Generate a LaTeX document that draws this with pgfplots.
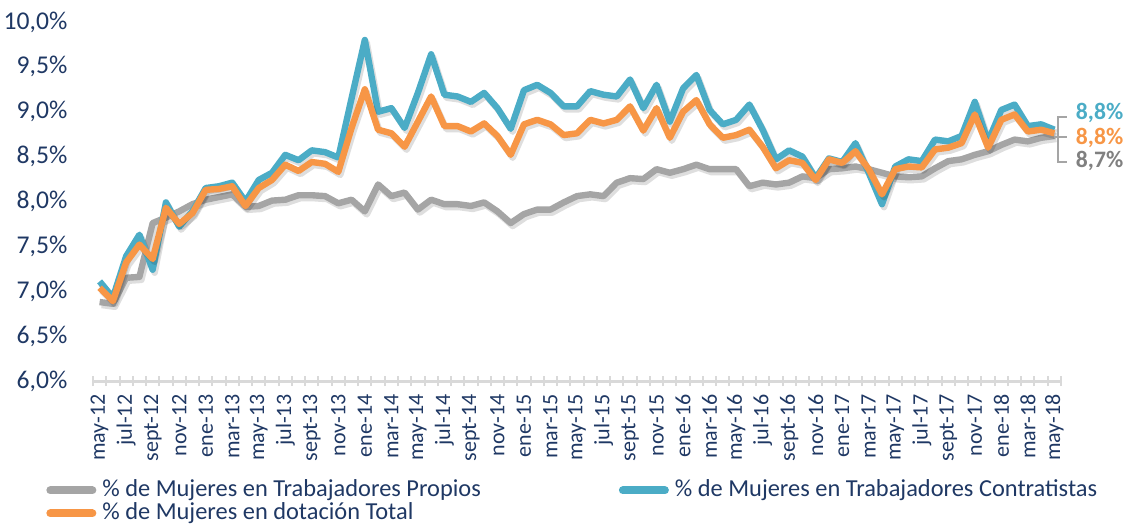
\documentclass[border=0pt]{standalone}
\usepackage{pgfplots}
\pgfplotsset{compat=1.18}
\usepackage{pgfplotstable}
\usepackage{fontspec}
\setmainfont{Carlito}
\definecolor{cblue}{HTML}{4BACC6}
\definecolor{corange}{HTML}{F79646}
\definecolor{cgrey}{HTML}{A5A5A5}
\definecolor{cgreyd}{HTML}{808080}
\definecolor{navy}{HTML}{1F3864}
\definecolor{axgrey}{HTML}{D9D9D9}

\pgfplotstableread{
i grey blue orange
0 6.88 7.11 7.04
1 6.86 6.93 6.89
2 7.15 7.39 7.32
3 7.16 7.63 7.52
4 7.76 7.24 7.36
5 7.82 7.99 7.93
6 7.89 7.72 7.75
7 7.97 7.89 7.87
8 8.02 8.15 8.13
9 8.05 8.17 8.14
10 8.08 8.21 8.17
11 7.94 8.00 7.95
12 7.95 8.24 8.15
13 8.01 8.32 8.24
14 8.02 8.52 8.41
15 8.07 8.46 8.34
16 8.07 8.57 8.44
17 8.06 8.55 8.42
18 7.98 8.49 8.33
19 8.02 9.15 8.82
20 7.89 9.80 9.25
21 8.19 9.00 8.80
22 8.06 9.04 8.76
23 8.10 8.82 8.61
24 7.91 9.21 8.89
25 8.02 9.64 9.17
26 7.97 9.19 8.84
27 7.97 9.17 8.84
28 7.95 9.11 8.78
29 7.99 9.21 8.87
30 7.89 9.04 8.73
31 7.76 8.81 8.52
32 7.86 9.24 8.86
33 7.91 9.30 8.91
34 7.91 9.21 8.86
35 7.99 9.06 8.74
36 8.06 9.06 8.76
37 8.08 9.23 8.91
38 8.06 9.19 8.87
39 8.21 9.17 8.91
40 8.26 9.36 9.06
41 8.25 9.04 8.79
42 8.36 9.30 9.04
43 8.32 8.89 8.71
44 8.36 9.26 9.00
45 8.41 9.41 9.13
46 8.36 9.02 8.86
47 8.36 8.86 8.71
48 8.36 8.91 8.74
49 8.17 9.08 8.80
50 8.21 8.80 8.61
51 8.19 8.47 8.37
52 8.21 8.57 8.46
53 8.28 8.50 8.43
54 8.26 8.26 8.24
55 8.36 8.48 8.47
56 8.37 8.44 8.43
57 8.39 8.65 8.56
58 8.36 8.32 8.36
59 8.32 7.97 8.08
60 8.28 8.39 8.36
61 8.27 8.47 8.39
62 8.28 8.45 8.38
63 8.37 8.69 8.58
64 8.45 8.67 8.60
65 8.47 8.73 8.65
66 8.52 9.11 8.97
67 8.56 8.67 8.60
68 8.63 9.02 8.91
69 8.69 9.08 8.97
70 8.67 8.84 8.78
71 8.71 8.86 8.80
72 8.73 8.80 8.76
}\data

\begin{document}
\begin{tikzpicture}
\useasboundingbox (-46.5pt,-72.5pt) rectangle (518pt,190.5pt);
\begin{axis}[
  at={(0,0)}, anchor=south west,
  width=484pt, height=179.5pt, scale only axis,
  xmin=-0.5, xmax=72.5, ymin=6, ymax=10,
  clip=false,
  axis x line*=bottom, axis y line*=left,
  y axis line style={draw=none},
  x axis line style={draw=axgrey, line width=1.5pt, -},
  xtick={0,2,...,72},
  xticklabels={may-12,jul-12,sept-12,nov-12,ene-13,mar-13,may-13,jul-13,sept-13,nov-13,ene-14,mar-14,may-14,jul-14,sept-14,nov-14,ene-15,mar-15,may-15,jul-15,sept-15,nov-15,ene-16,mar-16,may-16,jul-16,sept-16,nov-16,ene-17,mar-17,may-17,jul-17,sept-17,nov-17,ene-18,mar-18,may-18},
  minor xtick={-0.5,0.5,...,72.5},
  major x tick style={draw=none},
  minor x tick style={draw=axgrey, line width=1pt},
  minor tick length=5pt,
  tick align=center,
  ytick={6,6.5,...,10},
  yticklabels={{6,0\%},{6,5\%},{7,0\%},{7,5\%},{8,0\%},{8,5\%},{9,0\%},{9,5\%},{10,0\%}},
  ytick style={draw=none},
  xticklabel style={rotate=90, anchor=east, font=\fontsize{11}{12}\selectfont, text=navy, inner sep=0pt},
  xticklabel shift=4.5pt,
  yticklabel style={font=\fontsize{12.8}{14}\selectfont, text=navy, anchor=east, inner sep=0pt},
  yticklabel shift=10.5pt,
  legend columns=2,
  legend cell align=left,
  legend style={at={(-0.0486,-0.273)}, anchor=north west, draw=none, fill=none, inner sep=0pt,
    font=\fontsize{12.2}{14}\selectfont, text=navy,
    nodes={inner sep=0pt, text height=8.5pt, text depth=2.5pt},
    row sep=0.5pt,
    /tikz/every odd column/.append style={column sep=3pt},
    /tikz/every even column/.append style={column sep=69pt}},
  legend image code/.code={\draw[#1, line width=4pt, line cap=round] (2pt,0pt) -- (23pt,0pt);},
]
\addplot[forget plot, black, opacity=0.13, line width=3.2pt, line join=round, xshift=1pt, yshift=-1.5pt] table[x=i,y=grey]{\data};
\addplot[cgrey, line width=3.2pt, line join=round] table[x=i,y=grey]{\data};
\addlegendentry{\% de Mujeres en Trabajadores Propios}
\addplot[forget plot, black, opacity=0.13, line width=3.2pt, line join=round, xshift=1pt, yshift=-1.5pt] table[x=i,y=blue]{\data};
\addplot[cblue, line width=3.2pt, line join=round] table[x=i,y=blue]{\data};
\addlegendentry{\% de Mujeres en Trabajadores Contratistas}
\addplot[forget plot, black, opacity=0.13, line width=3.2pt, line join=round, xshift=1pt, yshift=-1.5pt] table[x=i,y=orange]{\data};
\addplot[corange, line width=3.2pt, line join=round] table[x=i,y=orange]{\data};
\addlegendentry{\% de Mujeres en dotación Total}

\draw[cgrey, line width=0.9pt] (axis cs:72.95,8.94) -- (axis cs:72.27,8.94) -- (axis cs:72.27,8.44) -- (axis cs:72.95,8.44);
\draw[cgrey, line width=0.9pt] (axis cs:71.95,8.72) -- (axis cs:72.95,8.72);
\node[font=\bfseries\fontsize{11.8}{12}\selectfont, text=cblue, anchor=west, inner sep=0pt] at (axis cs:73.6,8.99) {8,8\%};
\node[font=\bfseries\fontsize{11.8}{12}\selectfont, text=corange, anchor=west, inner sep=0pt] at (axis cs:73.6,8.71) {8,8\%};
\node[font=\bfseries\fontsize{11.8}{12}\selectfont, text=cgreyd, anchor=west, inner sep=0pt] at (axis cs:73.6,8.45) {8,7\%};
\end{axis}
\end{tikzpicture}
\end{document}
